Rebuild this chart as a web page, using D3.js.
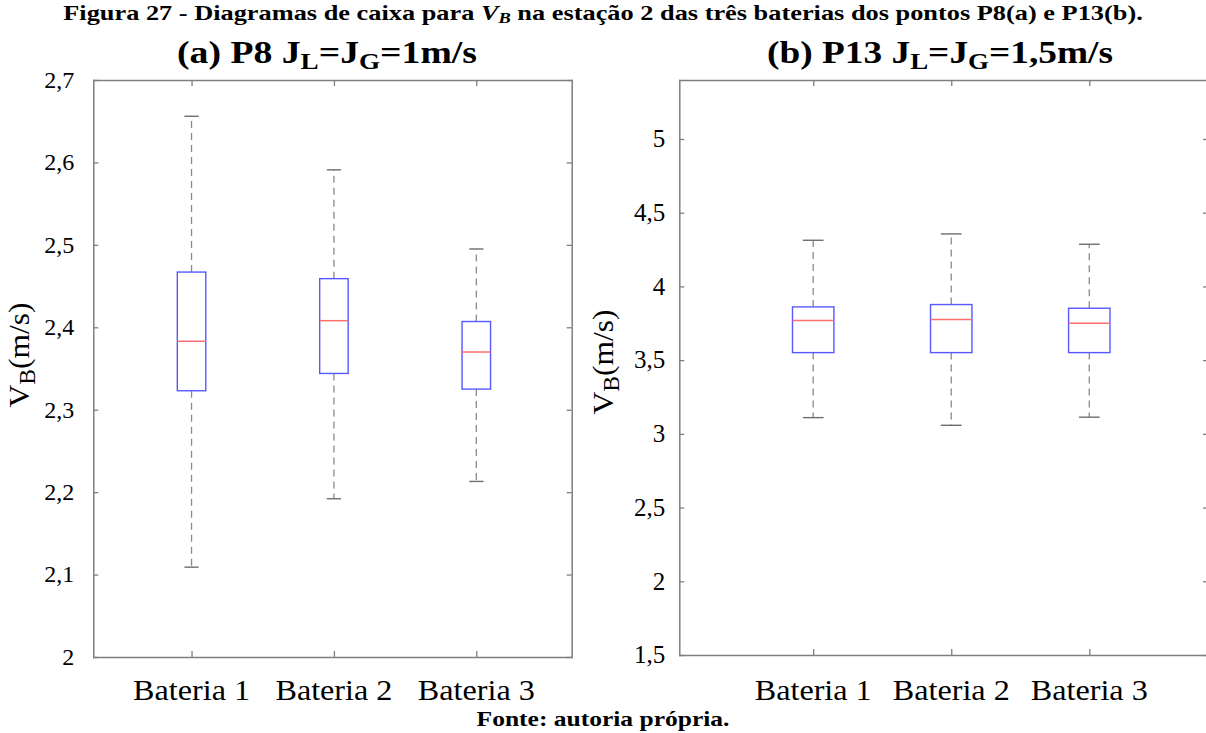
<!DOCTYPE html>
<html><head><meta charset="utf-8">
<script src="https://cdn.jsdelivr.net/npm/d3@7"></script>
<style>html,body{margin:0;padding:0;background:#fff;} svg{display:block;} text{font-family:"Liberation Serif",Tinos,"Times New Roman",Times,serif;}</style>
</head><body><svg id="c" width="1206" height="733"></svg>
<script>
const categories = ["Bateria 1", "Bateria 2", "Bateria 3"];
// Panel (a) P8
const p8Min    = [2.109, 2.192, 2.213];
const p8Q1     = [2.323, 2.344, 2.325];
const p8Median = [2.383, 2.408, 2.370];
const p8Q3     = [2.467, 2.459, 2.407];
const p8Max    = [2.656, 2.591, 2.495];
const p8Ticks  = [2, 2.1, 2.2, 2.3, 2.4, 2.5, 2.6, 2.7];
// Panel (b) P13
const p13Min    = [3.110, 3.058, 3.113];
const p13Q1     = [3.551, 3.551, 3.551];
const p13Median = [3.768, 3.775, 3.750];
const p13Q3     = [3.861, 3.877, 3.852];
const p13Max    = [4.313, 4.356, 4.286];
const p13Ticks  = [1.5, 2, 2.5, 3, 3.5, 4, 4.5, 5];

const mainTitle = "Figura 27 - Diagramas de caixa para ";
const mainTitleRest = " na estação 2 das três baterias dos pontos P8(a) e P13(b).";
const sourceText = "Fonte: autoria própria.";

const FONT = "'Liberation Serif', Tinos, 'Times New Roman', Times, serif";
const svg = d3.select("#c");
const ptBR = d3.formatLocale({decimal: ",", thousands: ".", grouping: [3], currency: ["", ""]});
const fmt = ptBR.format("~g");

const AX = "#7f7f7f";

function addText(parent, x, y, parts, o) {
  const g = parent.append("g").attr("transform", `translate(${x},${y})` + (o.rotate ? ` rotate(${o.rotate})` : ""));
  const t = g.append("text").attr("text-anchor", o.anchor || "middle").attr("font-family", FONT)
    .attr("font-size", o.size).attr("font-weight", o.bold ? "bold" : "normal").attr("fill", "#000");
  parts.forEach(([s, k]) => {
    const ts = t.append("tspan").text(s);
    if (k && k.includes("sub")) ts.attr("font-size", o.size * (o.subScale || 0.72)).attr("baseline-shift", o.subShift || "-28%");
    if (k && k.includes("it")) ts.attr("font-style", "italic");
  });
  if (o.width) {
    const w = t.node().getBBox().width;
    t.attr("transform", `scale(${o.width / w},1)`);
  }
  return t;
}

function panel(cfg) {
  const x = d3.scaleLinear().domain(cfg.xdom).range([cfg.left, cfg.right]);
  const y = d3.scaleLinear().domain(cfg.ydom).range([cfg.bottom, cfg.top]);
  const g = svg.append("g");
  const pos = categories.map((c, i) => i + 1);

  const styleAxis = sel => {
    sel.select(".domain").attr("stroke", AX).attr("stroke-width", 1.5);
    sel.selectAll(".tick line").attr("stroke", AX).attr("stroke-width", 1.3);
  };
  g.append("g").attr("transform", `translate(${cfg.left},0)`)
    .call(d3.axisLeft(y).tickValues(cfg.ticks).tickSize(-5).tickSizeOuter(0).tickFormat(""))
    .call(styleAxis);
  g.append("g").attr("transform", `translate(${cfg.rightAxis},0)`)
    .call(d3.axisRight(y).tickValues(cfg.ticks).tickSize(-5).tickSizeOuter(0).tickFormat(""))
    .call(styleAxis);
  g.append("g").attr("transform", `translate(0,${cfg.bottom})`)
    .call(d3.axisBottom(x).tickValues(pos).tickSize(-6).tickSizeOuter(0).tickFormat(""))
    .call(styleAxis);
  g.append("g").attr("transform", `translate(0,${cfg.top})`)
    .call(d3.axisTop(x).tickValues(pos).tickSize(-6).tickSizeOuter(0).tickFormat(""))
    .call(styleAxis);
  g.selectAll(".domain").attr("stroke-linecap", "square");

  cfg.ticks.forEach(v => {
    addText(g, cfg.left - cfg.labelGap, y(v) + cfg.tickSize * 0.33, [[fmt(v), ""]], {size: cfg.tickSize, anchor: "end"});
  });
  categories.forEach((c, i) => {
    addText(g, x(i + 1), cfg.xLabelY, [[c, ""]], {size: 30, width: 117});
  });

  const bw = cfg.boxW;
  const half = (x(1 + bw) - x(1)) / 2;
  categories.forEach((c, i) => {
    const cx = x(i + 1);
    [[cfg.q3[i], cfg.max[i]], [cfg.q1[i], cfg.min[i]]].forEach(([a, b]) => {
      g.append("line").attr("x1", cx).attr("x2", cx).attr("y1", y(a)).attr("y2", y(b))
        .attr("stroke", "#8a8a8a").attr("stroke-width", 1.3).attr("stroke-dasharray", "7,5");
      g.append("line").attr("x1", cx - half / 2).attr("x2", cx + half / 2).attr("y1", y(b)).attr("y2", y(b))
        .attr("stroke", "#6e6e6e").attr("stroke-width", 1.4);
    });
    g.append("rect").attr("x", cx - half).attr("width", 2 * half)
      .attr("y", y(cfg.q3[i])).attr("height", y(cfg.q1[i]) - y(cfg.q3[i]))
      .attr("fill", "none").attr("stroke", "#5858ff").attr("stroke-width", 1.4);
    g.append("line").attr("x1", cx - half).attr("x2", cx + half).attr("y1", y(cfg.med[i])).attr("y2", y(cfg.med[i]))
      .attr("stroke", "#ff6e6e").attr("stroke-width", 1.5);
  });

  addText(g, cfg.yLabelX, cfg.yLabelY, [["V", ""], ["B", "sub"], ["(m/s)", ""]], {size: 30, rotate: -90, width: 105, subScale: 0.75, subShift: "-25%"});
}

panel({xdom: [0.31, 3.67], left: 93.3, right: 571.7, rightAxis: 571.7, top: 80, bottom: 657,
  ydom: [2, 2.7], ticks: p8Ticks, min: p8Min, q1: p8Q1, med: p8Median, q3: p8Q3, max: p8Max,
  boxW: 0.2, labelGap: 19, tickSize: 24, xLabelY: 700, yLabelX: 29, yLabelY: 355});
panel({xdom: [0.03, 3.86], left: 679.3, right: 1208, rightAxis: 1208, top: 80, bottom: 655,
  ydom: [1.5, 5.4], ticks: p13Ticks, min: p13Min, q1: p13Q1, med: p13Median, q3: p13Q3, max: p13Max,
  boxW: 0.3, labelGap: 14, tickSize: 25, xLabelY: 700, yLabelX: 613, yLabelY: 362});

addText(svg, 603, 20, [[mainTitle, ""], ["V", "it"], ["B", "itsub"], [mainTitleRest, ""]], {size: 21, bold: true, width: 1080, subScale: 0.7, subShift: "-20%"});
addText(svg, 327, 63, [["(a) P8 J", ""], ["L", "sub"], ["=J", ""], ["G", "sub"], ["=1m/s", ""]], {size: 32, bold: true, width: 300, subScale: 0.72, subShift: "-26%"});
addText(svg, 940, 63, [["(b) P13 J", ""], ["L", "sub"], ["=J", ""], ["G", "sub"], ["=1,5m/s", ""]], {size: 32, bold: true, width: 346, subScale: 0.72, subShift: "-26%"});
addText(svg, 603, 726, [[sourceText, ""]], {size: 22, bold: true, width: 253});
</script></body></html>
